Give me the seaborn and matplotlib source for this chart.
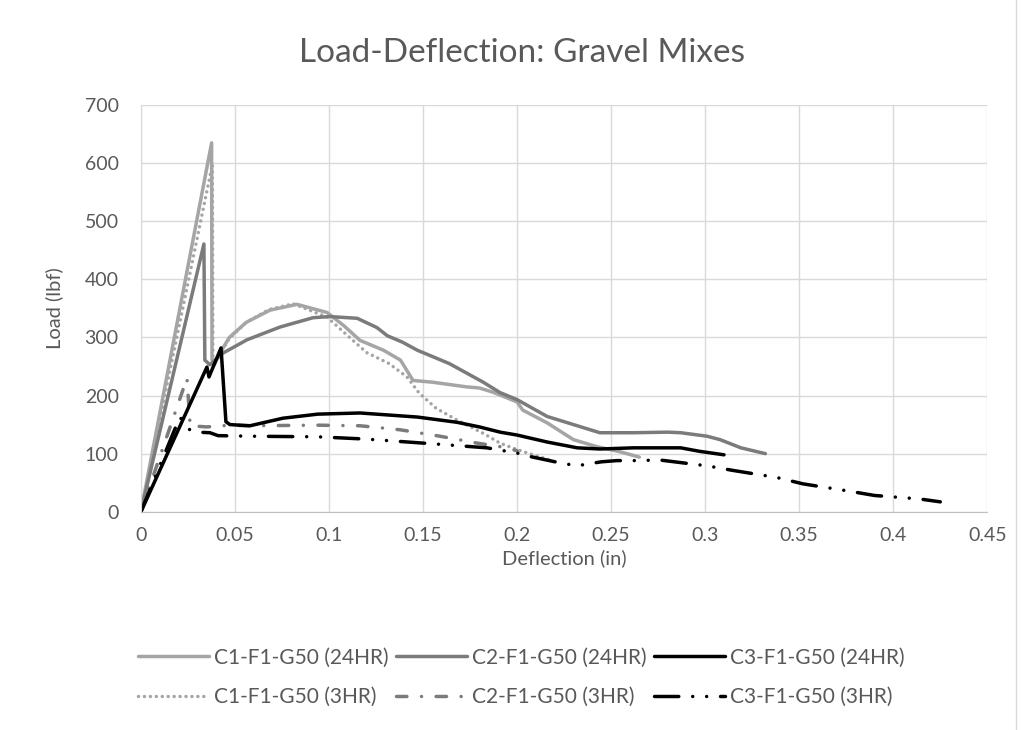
import pandas as pd
import matplotlib
matplotlib.use("Agg")
import matplotlib.pyplot as plt
import seaborn as sns

# Series: deflection (in) and load (lbf)
c1_24_x = [0, 0.0376, 0.0378, 0.039, 0.042, 0.047, 0.056, 0.0686, 0.083, 0.099, 0.108, 0.1165,
           0.129, 0.138, 0.1447, 0.155, 0.173, 0.18, 0.187, 0.2, 0.203, 0.216, 0.23, 0.2425,
           0.255, 0.265]
c1_24_y = [0, 635, 262, 253, 273, 300, 326, 347, 357, 343, 320, 295,
           278, 261, 226, 223, 215, 213, 206, 189, 175, 153, 124, 112,
           103, 94]

c2_24_x = [0, 0.0335, 0.034, 0.0367, 0.0436, 0.0564, 0.074, 0.0915, 0.1005, 0.115, 0.1255,
           0.131, 0.139, 0.147, 0.164, 0.182, 0.191, 0.2, 0.216, 0.23, 0.244, 0.262, 0.28,
           0.287, 0.301, 0.308, 0.319, 0.332]
c2_24_y = [0, 461, 261, 253, 273, 296, 318, 334, 336, 333, 317,
           303, 292, 278, 255, 223, 205, 193, 164, 150, 136, 136, 137,
           136, 130, 124, 110, 100]

c3_24_x = [0, 0.0351, 0.0362, 0.0426, 0.0452, 0.0473, 0.058, 0.0755, 0.094, 0.1165, 0.147,
           0.168, 0.18, 0.191, 0.2, 0.216, 0.232, 0.244, 0.262, 0.287, 0.297, 0.31]
c3_24_y = [0, 249, 232, 282, 155, 150, 148, 161, 168, 170, 163,
           154, 146, 137, 132, 120, 110, 108, 110, 110, 104, 98]

c1_3_x = [0, 0.038, 0.0383, 0.04, 0.047, 0.056, 0.068, 0.081, 0.099, 0.111, 0.120, 0.132,
          0.1415, 0.148, 0.157, 0.168, 0.182, 0.191, 0.2, 0.2085, 0.2175]
c1_3_y = [0, 598, 262, 262, 298, 326, 348, 358, 335, 300, 274, 255,
          232, 204, 178, 158, 135, 118, 107, 98, 89]

c2_3_x = [0, 0.0245, 0.0262, 0.035, 0.0473, 0.058, 0.094, 0.1165, 0.138, 0.159, 0.179, 0.191, 0.2]
c2_3_y = [0, 230, 148, 146, 149, 148, 149, 148, 141, 130, 118, 112, 105]

c3_3_x = [0, 0.0207, 0.026, 0.0298, 0.0367, 0.041, 0.058, 0.094, 0.120, 0.155, 0.184, 0.2,
          0.207, 0.223, 0.232, 0.237, 0.245, 0.253, 0.262, 0.276, 0.301, 0.315, 0.338, 0.352,
          0.3755, 0.39, 0.414, 0.425]
c3_3_y = [0, 163, 141, 137, 136, 131, 130, 129, 125, 117, 110, 101,
          95, 84, 79, 82, 86, 88, 88, 89, 79, 71, 59, 48,
          36, 28, 22, 17]

x_ticks = [0, 0.05, 0.1, 0.15, 0.2, 0.25, 0.3, 0.35, 0.4, 0.45]
x_tick_labels = ["0", "0.05", "0.1", "0.15", "0.2", "0.25", "0.3", "0.35", "0.4", "0.45"]
y_ticks = [0, 100, 200, 300, 400, 500, 600, 700]

sns.set_style("white")
plt.rcParams['font.family'] = ['Lato', 'DejaVu Sans']
text_col = '#595959'

fig = plt.figure(figsize=(10.21, 7.30), dpi=100)
ax = fig.add_axes([0.138, 0.299, 0.829, 0.557])

# (label, x, y, color, linestyle) in legend order (column-wise fill)
series = [
    ("C1-F1-G50 (24HR)", c1_24_x, c1_24_y, '#A5A5A5', '-'),
    ("C1-F1-G50 (3HR)", c1_3_x, c1_3_y, '#A5A5A5', (0, (0.01, 1.7))),
    ("C2-F1-G50 (24HR)", c2_24_x, c2_24_y, '#7B7B7B', '-'),
    ("C2-F1-G50 (3HR)", c2_3_x, c2_3_y, '#7B7B7B', (0, (3, 4.2, 0.01, 4.2))),
    ("C3-F1-G50 (24HR)", c3_24_x, c3_24_y, '#000000', '-'),
    ("C3-F1-G50 (3HR)", c3_3_x, c3_3_y, '#000000', (0, (7, 4, 0.01, 4, 0.01, 4))),
]

for label, xs, ys, col, ls in series:
    df = pd.DataFrame({'x': xs, 'y': ys})
    sns.lineplot(data=df, x='x', y='y', ax=ax, sort=False, estimator=None,
                 color=col, linestyle=ls, linewidth=2.5, label=label)
for line in ax.get_lines():
    line.set_dash_capstyle('round')
    line.set_solid_capstyle('round')

ax.set_xlim(0, 0.45)
ax.set_ylim(0, 700)
ax.set_xticks(x_ticks)
ax.set_xticklabels(x_tick_labels)
ax.set_yticks(y_ticks)
ax.grid(True, color='#D9D9D9', linewidth=1.0)
ax.set_axisbelow(True)
for s in ['top', 'right']:
    ax.spines[s].set_visible(False)
ax.spines['left'].set_color('#D9D9D9')
ax.spines['bottom'].set_color('#BFBFBF')
ax.tick_params(axis='both', length=0, labelsize=14, colors=text_col)
ax.tick_params(axis='y', pad=16)
ax.tick_params(axis='x', pad=11)

ax.set_xlabel("Deflection (in)", fontsize=14.5, color=text_col)
ax.set_ylabel("Load (lbf)", fontsize=14.5, color=text_col)
ax.xaxis.set_label_coords(0.5, -0.093)
ax.yaxis.set_label_coords(-0.092, 0.5)

fig.text(0.511, 0.928, "Load-Deflection: Gravel Mixes", ha='center', va='center',
         fontsize=24, color=text_col)

handles, labels = ax.get_legend_handles_labels()
ax.get_legend().remove()
fig.legend(handles, labels, ncol=3, loc='center', bbox_to_anchor=(0.511, 0.072),
           frameon=False, fontsize=15, labelcolor=text_col, handlelength=3.4,
           handletextpad=0.25, columnspacing=0.35, labelspacing=0.95)

fig.add_artist(plt.Line2D([0.995, 0.995], [0, 1], color='#D9D9D9', linewidth=1.0,
                          transform=fig.transFigure))

fig.savefig("out.png", dpi=100)
